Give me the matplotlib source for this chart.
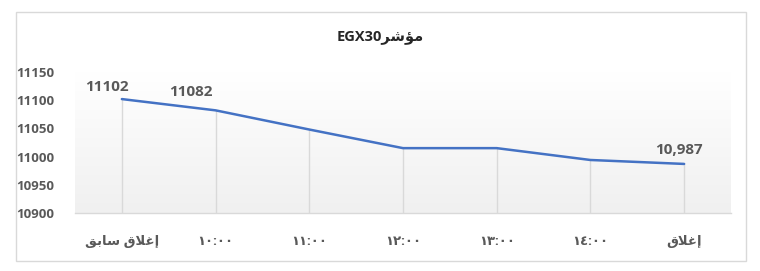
import numpy as np
import matplotlib
matplotlib.use('Agg')
import matplotlib.pyplot as plt
from matplotlib.patches import Rectangle

# Arabic text is written in visual order with presentation forms,
# matplotlib does no shaping of its own
categories = ['\uFED6\uFE91\uFE8E\uFEB3 \uFED5\uFEFC\uFECF\uFE87',  # إغلاق سابق
              '\u0661\u0660:\u0660\u0660',
              '\u0661\u0661:\u0660\u0660',
              '\u0661\u0662:\u0660\u0660',
              '\u0661\u0663:\u0660\u0660',
              '\u0661\u0664:\u0660\u0660',
              '\uFED5\uFEFC\uFECF\uFE87']  # إغلاق
values = [11102, 11082, 11048, 11015, 11015, 10994, 10987]
label_idx = [0, 1, 6]
label_text = ['11102', '11082', '10,987']
yticks = [10900, 10950, 11000, 11050, 11100, 11150]
title = 'EGX30' + '\uFEAE\uFEB7\uFE86\uFEE3'  # مؤشر

plt.rcParams['font.family'] = ['Open Sans', 'DejaVu Sans']
grey = '#595959'

fig = plt.figure(figsize=(7.6, 2.71), dpi=100)
fig.patches.append(Rectangle((15.5 / 760, 1 - 261 / 271), 730 / 760, 249 / 271,
                             transform=fig.transFigure, fill=False,
                             edgecolor='#d9d9d9', linewidth=1))
ax = fig.add_axes([75 / 760, 1 - 213 / 271, 656 / 760, 141 / 271])

x = np.arange(len(values))
ax.set_xlim(-0.5, len(values) - 0.5)
ax.set_ylim(yticks[0], yticks[-1])

# soft white-to-grey fill of the plot area
grad = np.linspace(0, 1, 256).reshape(-1, 1)
ax.imshow(grad, cmap=matplotlib.colors.LinearSegmentedColormap.from_list(
    'g', ['#f0f0f0', '#ffffff']), aspect='auto', extent=(0, 1, 0, 1),
    transform=ax.transAxes, origin='lower', zorder=0)

ax.vlines(x, yticks[0], values, color='#d9d9d9', linewidth=1, zorder=1)
ax.plot(x, values, color='#4472c4', linewidth=1.8, zorder=3, solid_capstyle='round')

offsets = [(-11, 9), (-18, 13.5), (-4, 10)]
for i, t, off in zip(label_idx, label_text, offsets):
    ax.annotate(t, (x[i], values[i]), xytext=off, textcoords='offset points',
                ha='center', va='center', fontsize=11, fontweight='bold', color=grey)

for s in ['top', 'left', 'right']:
    ax.spines[s].set_visible(False)
ax.spines['bottom'].set_color('#d9d9d9')
ax.spines['bottom'].set_linewidth(1)

ax.set_xticks(x)
ax.set_xticklabels(categories, fontsize=9.5, fontweight='bold', color=grey)
ax.set_yticks(yticks)
ax.set_yticklabels([str(v) for v in yticks], fontsize=9.5, fontweight='bold',
                   color=grey, ha='left')
ax.tick_params(axis='x', length=0, pad=16)
ax.tick_params(axis='y', length=0, pad=42)

fig.text(380 / 760, 1 - 37 / 271, title, ha='center', va='center',
         fontsize=10.5, fontweight='bold', color='#262626')

fig.savefig('out.png', dpi=100)
